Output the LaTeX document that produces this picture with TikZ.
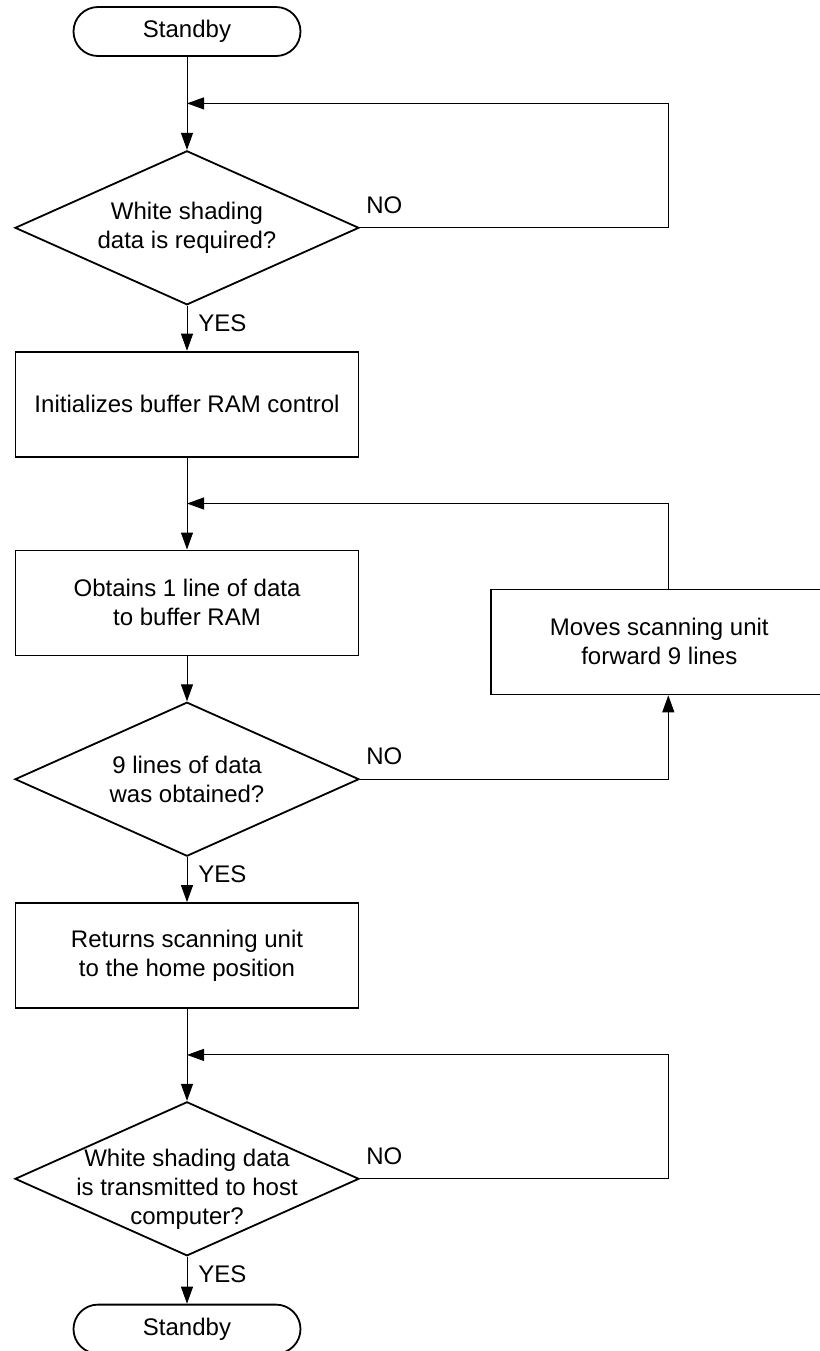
\documentclass[tikz,border=0pt]{standalone}
\usepackage{fontspec}
\setmainfont{Liberation Sans}
\usetikzlibrary{positioning,calc,shapes.geometric,arrows.meta}
\tikzset{block/.style={draw,line width=0.9pt,minimum width=171.5pt,minimum height=52.5pt,align=center,inner sep=0pt},
         decision/.style={draw,diamond,line width=0.9pt,minimum width=172pt,minimum height=77pt,shape aspect=2.2,inner sep=-10pt,align=center},
         term/.style={draw,rounded corners=12.25pt,line width=0.9pt,minimum width=113.5pt,minimum height=24.5pt},
         tag/.style={inner sep=0pt},
         line/.style={line width=0.5pt,-{Triangle[length=8.5pt,width=6pt]}}
}

\begin{document}
\begin{tikzpicture}[x=0.5pt,y=-0.5pt,font=\fontsize{12}{14.5}\selectfont]

\useasboundingbox (0,0) rectangle (820,1351);
\node[term] (start) at (187,31.5) {Standby};
\node[decision,below=46.5pt of start] (whreq) {White shading\\data is required?};
\node[block,below=22.5pt of whreq] (init) {Initializes buffer RAM control};
\node[block,below=46pt of init] (getline) {Obtains 1 line of data\\to buffer RAM};
\node[decision,below=22.5pt of getline] (ninel) {9 lines of data\\was obtained?};
\node[block,below=22.5pt of ninel] (ret) {Returns scanning unit\\to the home position};
\node[decision,below=46pt of ret] (sent) {\rule{0pt}{19pt}White shading data\\is transmitted to host\\computer?};
\node[term,below=23.5pt of sent] (stop) {Standby};
\node[block,right=65.5pt of getline,yshift=-19.5pt,minimum width=168pt] (fwd) {Moves scanning unit\\forward 9 lines};
\node[tag,above right=7pt and 3pt of whreq.east] (no1) {NO};
\node[tag,below right=4.2pt and 5.5pt of whreq.south] (yes1) {YES};
\node[tag,above right=7pt and 3pt of ninel.east] (no2) {NO};
\node[tag,below right=4.2pt and 5.5pt of ninel.south] (yes2) {YES};
\node[tag,above right=7pt and 3pt of sent.east] (no3) {NO};
\node[tag,below right=4.2pt and 5.5pt of sent.south] (yes3) {YES};
\coordinate (j1) at ($(start.south)!0.5!(whreq.north)$);
\coordinate (j2) at ($(init.south)!0.5!(getline.north)$);
\coordinate (j3) at ($(ret.south)!0.5!(sent.north)$);
\coordinate (rail) at ([xshift=4.5pt]fwd.center);
\draw[line] (start)--(whreq);
\draw[line] (whreq)--(init);
\draw[line] (init)--(getline);
\draw[line] (getline)--(ninel);
\draw[line] (ninel)--(ret);
\draw[line] (ret)--(sent);
\draw[line] (sent)--(stop);
\draw[line] (whreq.east)-|(rail |- j1)--(j1);
\draw[line] (ninel.east)-|(rail |- fwd.south);
\draw[line] (rail |- fwd.north)|-(j2);
\draw[line] (sent.east)-|(rail |- j3)--(j3);

\end{tikzpicture}
\end{document}
